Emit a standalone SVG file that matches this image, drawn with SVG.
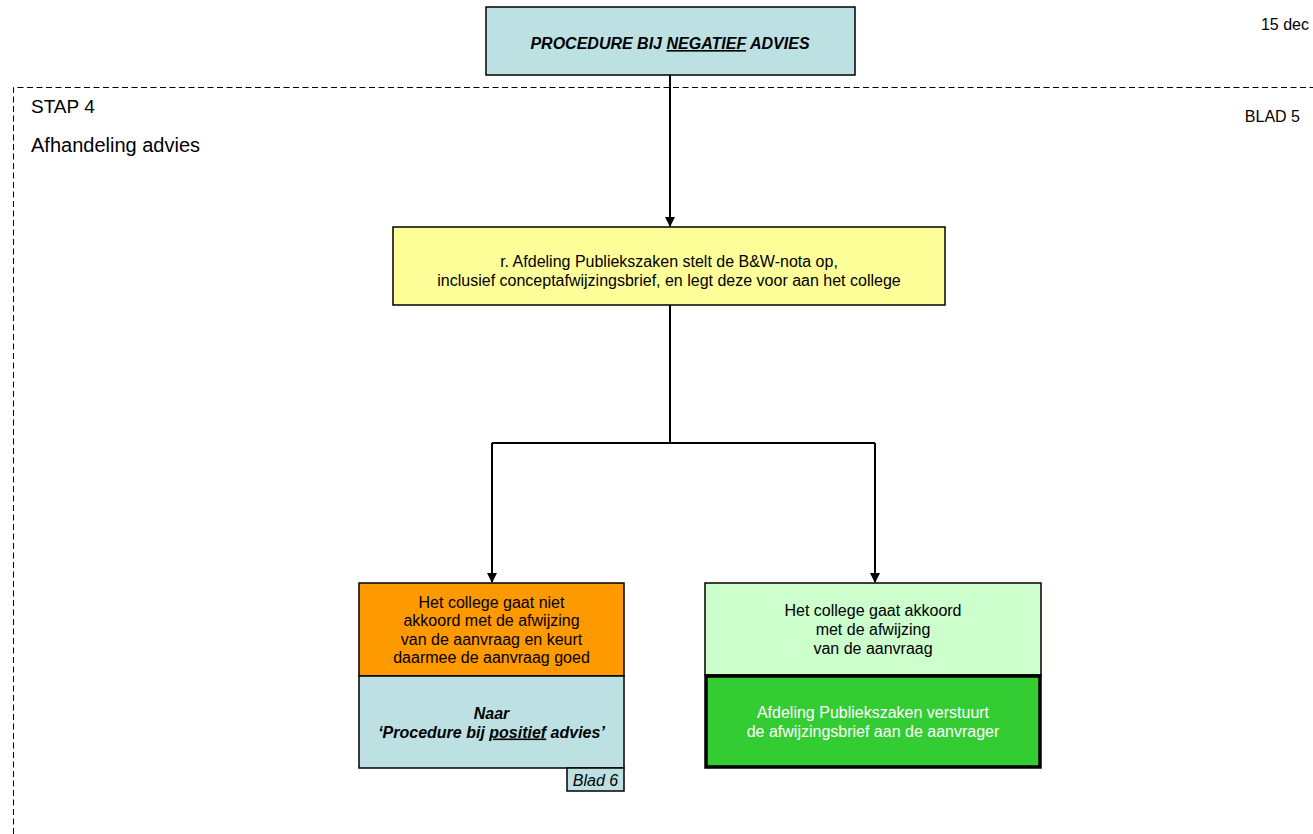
<svg xmlns="http://www.w3.org/2000/svg" width="1313" height="834" viewBox="0 0 1313 834">
<defs>
<style>
text{font-family:"Liberation Sans",Arial,sans-serif;fill:#000;font-size:16px;}
.c{text-anchor:middle;}
.bi{font-weight:bold;font-style:italic;}
.box{stroke:#000;stroke-width:1.5;}
.ln{stroke:#000;stroke-width:2;fill:none;}
</style>
<marker id="ah" markerWidth="10" markerHeight="10" refX="9" refY="5" orient="auto" markerUnits="userSpaceOnUse">
<path d="M0,0 L10,5 L0,10 z" fill="#000"/>
</marker>
</defs>
<rect width="1313" height="834" fill="#fff"/>
<path d="M13.5,834 V87.5 H1313" fill="none" stroke="#000" stroke-width="1" stroke-dasharray="6,3.5"/>
<text x="1309" y="30" text-anchor="end">15 dec</text>
<text x="1300" y="122" text-anchor="end">BLAD 5</text>
<text x="31" y="113" style="font-size:19px">STAP 4</text>
<text x="31" y="152" style="font-size:20px">Afhandeling advies</text>
<g id="connectors">
<path class="ln" d="M670,75 V226" marker-end="url(#ah)"/>
<path class="ln" d="M670,305 V443"/>
<path class="ln" d="M492,443 H875"/>
<path class="ln" d="M492,443 V582" marker-end="url(#ah)"/>
<path class="ln" d="M875,443 V582" marker-end="url(#ah)"/>
</g>
<g id="top">
<rect class="box" x="486" y="7" width="369" height="68" fill="#BDE1E3"/>
<text class="c bi" x="670" y="49">PROCEDURE BIJ <tspan text-decoration="underline">NEGATIEF</tspan> ADVIES</text>
</g>
<g id="nota">
<rect class="box" x="393" y="227" width="552" height="78" fill="#FFFF99"/>
<text class="c" x="669" y="267">r. Afdeling Publiekszaken stelt de B&amp;W-nota op,</text>
<text class="c" x="669" y="285.5">inclusief conceptafwijzingsbrief, en legt deze voor aan het college</text>
</g>
<g id="niet-akkoord">
<rect class="box" x="359" y="583" width="265" height="93" fill="#FF9900"/>
<text class="c" x="491.5" y="607.5">Het college gaat niet</text>
<text class="c" x="491.5" y="626">akkoord met de afwijzing</text>
<text class="c" x="491.5" y="644.5">van de aanvraag en keurt</text>
<text class="c" x="491.5" y="663">daarmee de aanvraag goed</text>
</g>
<g id="naar-positief">
<rect class="box" x="359" y="676" width="265" height="92" fill="#BDE1E3"/>
<text class="c bi" x="491.5" y="718.5">Naar</text>
<text class="c bi" x="491.5" y="737.5">‘Procedure bij <tspan text-decoration="underline">positief</tspan> advies’</text>
</g>
<g id="blad6">
<rect class="box" x="567" y="768" width="57" height="23" fill="#BDE1E3"/>
<text x="595.5" y="786" font-style="italic" text-anchor="middle">Blad 6</text>
</g>
<g id="akkoord">
<rect class="box" x="705" y="583" width="336" height="92" fill="#CCFFCC"/>
<text class="c" x="873" y="616">Het college gaat akkoord</text>
<text class="c" x="873" y="635">met de afwijzing</text>
<text class="c" x="873" y="654">van de aanvraag</text>
</g>
<g id="verstuurt">
<rect x="706" y="676" width="334" height="91" fill="#33CC33" stroke="#000" stroke-width="3.5"/>
<text class="c" x="873" y="718" style="fill:#fff">Afdeling Publiekszaken verstuurt</text>
<text class="c" x="873" y="737" style="fill:#fff">de afwijzingsbrief aan de aanvrager</text>
</g>
</svg>
